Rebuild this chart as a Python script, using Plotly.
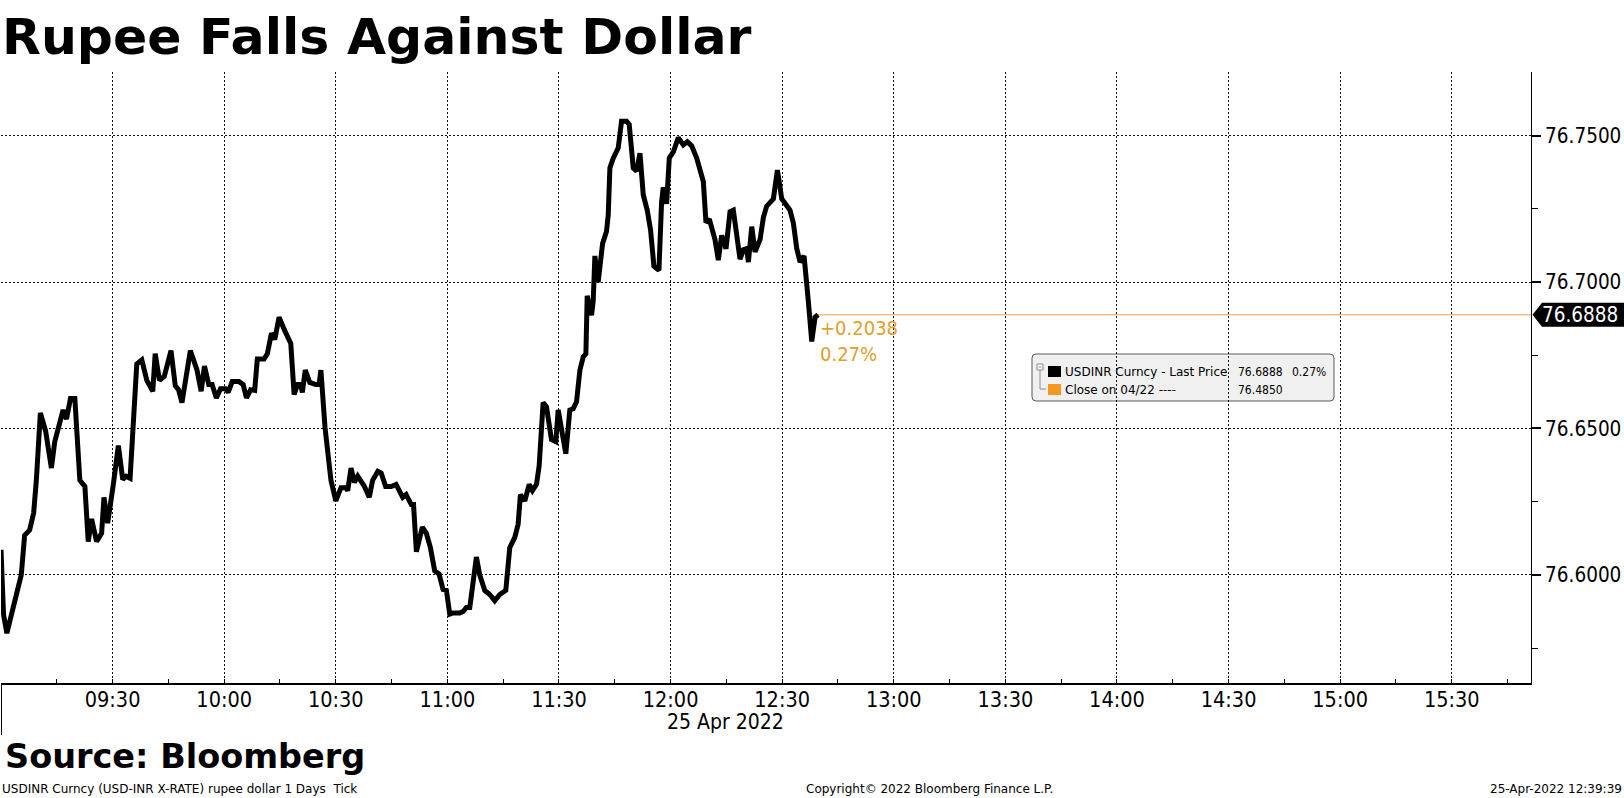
import plotly.graph_objects as go

DATE = "2022-04-25"

times = [
    "09:00:00", "09:00:41", "09:01:35", "09:03:39", "09:05:27", "09:06:21", "09:07:42", "09:08:47", "09:09:30", "09:10:35",
    "09:12:01", "09:13:33", "09:14:27", "09:16:42", "09:17:36", "09:18:41", "09:19:51", "09:21:12", "09:22:33", "09:23:27",
    "09:24:21", "09:25:42", "09:27:03", "09:27:41", "09:28:40", "09:30:12", "09:31:33", "09:32:43", "09:33:37", "09:34:42",
    "09:36:30", "09:37:51", "09:39:12", "09:40:48", "09:41:27", "09:42:36", "09:43:54", "09:45:42", "09:46:51", "09:47:45",
    "09:48:39", "09:50:54", "09:52:42", "09:53:48", "09:54:42", "09:55:51", "09:56:45", "09:57:54", "09:59:00", "10:00:21",
    "10:01:04", "10:02:09", "10:03:57", "10:05:06", "10:06:00", "10:07:06", "10:08:12", "10:08:54", "10:10:42", "10:11:36",
    "10:12:42", "10:13:36", "10:14:45", "10:16:06", "10:17:54", "10:18:48", "10:19:42", "10:20:36", "10:21:00", "10:21:48",
    "10:23:00", "10:24:36", "10:25:30", "10:26:00", "10:27:06", "10:28:42", "10:30:00", "10:31:24", "10:32:42", "10:33:12",
    "10:34:06", "10:35:00", "10:35:54", "10:37:42", "10:39:00", "10:39:54", "10:41:18", "10:42:12", "10:43:24", "10:44:54",
    "10:46:12", "10:48:00", "10:48:54", "10:50:18", "10:50:54", "10:51:40", "10:53:16", "10:54:21", "10:55:26", "10:56:35",
    "10:57:46", "10:58:50", "10:59:44", "11:00:38", "11:01:31", "11:03:19", "11:04:13", "11:05:07", "11:06:01", "11:07:48",
    "11:08:42", "11:10:03", "11:11:23", "11:12:44", "11:14:05", "11:15:42", "11:16:46", "11:18:07", "11:19:01", "11:19:38",
    "11:20:49", "11:21:59", "11:22:52", "11:23:57", "11:24:40", "11:25:44", "11:26:38", "11:27:59", "11:29:09", "11:29:47",
    "11:30:41", "11:31:50", "11:32:55", "11:33:49", "11:34:43", "11:35:37", "11:36:31", "11:37:14", "11:37:35", "11:38:45",
    "11:39:12", "11:39:39", "11:40:32", "11:40:59", "11:41:43", "11:42:47", "11:43:14", "11:43:41", "11:44:35", "11:45:56",
    "11:46:49", "11:48:10", "11:48:53", "11:49:58", "11:50:52", "11:51:46", "11:52:39", "11:53:44", "11:54:38", "11:55:31",
    "11:56:52", "11:57:35", "11:58:02", "11:58:56", "11:59:39", "12:00:44", "12:02:04", "12:03:25", "12:04:29", "12:05:40",
    "12:07:01", "12:08:48", "12:09:31", "12:10:25", "12:11:56", "12:12:50", "12:13:44", "12:14:54", "12:15:59", "12:16:52",
    "12:17:46", "12:18:40", "12:19:34", "12:20:28", "12:20:55", "12:21:49", "12:22:42", "12:24:03", "12:24:57", "12:25:50",
    "12:27:38", "12:28:43", "12:29:53", "12:31:13", "12:32:07", "12:33:01", "12:33:55", "12:34:49", "12:35:53", "12:37:04",
    "12:37:57", "12:38:51", "12:39:39",
]

prices = [
    76.6086, 76.5864, 76.5801, 76.5905, 76.6000, 76.6135, 76.6153, 76.6212, 76.6323, 76.6553,
    76.6490, 76.6365, 76.6455, 76.6563, 76.6532, 76.6602, 76.6602, 76.6323, 76.6302, 76.6114,
    76.6191, 76.6114, 76.6142, 76.6265, 76.6177, 76.6309, 76.6442, 76.6326, 76.6337, 76.6330,
    76.6720, 76.6734, 76.6664, 76.6627, 76.6755, 76.6664, 76.6678, 76.6766, 76.6646, 76.6632,
    76.6588, 76.6766, 76.6699, 76.6627, 76.6713, 76.6650, 76.6650, 76.6604, 76.6636, 76.6636,
    76.6623, 76.6660, 76.6660, 76.6650, 76.6604, 76.6632, 76.6630, 76.6737, 76.6737, 76.6755,
    76.6825, 76.6804, 76.6880, 76.6839, 76.6790, 76.6616, 76.6650, 76.6650, 76.6623, 76.6699,
    76.6657, 76.6650, 76.6650, 76.6699, 76.6504, 76.6323, 76.6253, 76.6298, 76.6298, 76.6288,
    76.6365, 76.6316, 76.6337, 76.6302, 76.6265, 76.6323, 76.6354, 76.6348, 76.6302, 76.6302,
    76.6309, 76.6265, 76.6274, 76.6240, 76.6240, 76.6079, 76.6163, 76.6142, 76.6093, 76.6014,
    76.6003, 76.5950, 76.5947, 76.5866, 76.5870, 76.5870, 76.5875, 76.5889, 76.5889, 76.6061,
    76.6000, 76.5947, 76.5933, 76.5912, 76.5933, 76.5947, 76.6093, 76.6128, 76.6173, 76.6274,
    76.6253, 76.6309, 76.6288, 76.6309, 76.6372, 76.6588, 76.6574, 76.6462, 76.6455, 76.6563,
    76.6497, 76.6414, 76.6563, 76.6567, 76.6591, 76.6699, 76.6744, 76.6755, 76.6953, 76.6887,
    76.6936, 76.7089, 76.6999, 76.7054, 76.7131, 76.7173, 76.7228, 76.7389, 76.7423, 76.7458,
    76.7549, 76.7549, 76.7538, 76.7389, 76.7379, 76.7440, 76.7298, 76.7245, 76.7176, 76.7054,
    76.7040, 76.7273, 76.7323, 76.7267, 76.7423, 76.7444, 76.7493, 76.7468, 76.7479, 76.7465,
    76.7423, 76.7343, 76.7203, 76.7215, 76.7145, 76.7075, 76.7159, 76.7114, 76.7240, 76.7245,
    76.7145, 76.7078, 76.7110, 76.7114, 76.7068, 76.7189, 76.7103, 76.7145, 76.7221, 76.7259,
    76.7284, 76.7382, 76.7284, 76.7256, 76.7245, 76.7201, 76.7114, 76.7068, 76.7089, 76.6929,
    76.6797, 76.6880, 76.6888,
]

x_tick_times = ["09:00", "09:30", "10:00", "10:30", "11:00", "11:30", "12:00", "12:30",
                "13:00", "13:30", "14:00", "14:30", "15:00", "15:30"]
x_tick_labels = ["", "09:30", "10:00", "10:30", "11:00", "11:30", "12:00", "12:30",
                 "13:00", "13:30", "14:00", "14:30", "15:00", "15:30"]
y_tick_values = [76.60, 76.65, 76.70, 76.75]
y_tick_labels = ["76.6000", "76.6500", "76.7000", "76.7500"]
x_start = "09:00:00"
x_end = "15:51:18"
y_range = [76.5631, 76.7717]

last_price = 76.6888
prev_close = 76.4850
prev_close_label = "04/22"
ticker = "USDINR Curncy"

title_text = "Rupee Falls Against Dollar"
source_text = "Source: Bloomberg"
footer_left = "USDINR Curncy (USD-INR X-RATE) rupee dollar 1 Days  Tick"
footer_mid = "Copyright\u00a9 2022 Bloomberg Finance L.P."
footer_right = "25-Apr-2022 12:39:39"
date_label = "25 Apr 2022"

BLACK = "#000000"
ORANGE_LINE = "#E9A53A"
ORANGE_TEXT = "#E39E2D"
ORANGE_SWATCH = "#F29A1F"
COND = "DejaVu Sans Condensed"
SANS = "DejaVu Sans"

W, H = 1624, 798
L, R, T, B = 1, 93, 72, 115
PW = W - L - R
PH = H - T - B


def px(x):
    return (x - L) / PW


def py(y):
    return (H - B - y) / PH


xs = [f"{DATE} {t}" for t in times]
change = last_price - prev_close
pct = change / prev_close * 100

fig = go.Figure()
fig.add_trace(go.Scatter(
    x=[xs[-1], f"{DATE} {x_end}"], y=[last_price, last_price],
    mode="lines", line=dict(color=ORANGE_LINE, width=1), hoverinfo="skip"))
fig.add_trace(go.Scatter(
    x=xs, y=prices, mode="lines",
    line=dict(color=BLACK, width=5), name=ticker))

shapes = []
# day separator at left
shapes.append(dict(type="line", xref="x", yref="paper",
                   x0=f"{DATE} {x_start}", x1=f"{DATE} {x_start}",
                   y0=py(735), y1=0, line=dict(color=BLACK, width=2)))

# price box on the right axis
h = 12 * (y_range[1] - y_range[0]) / PH
shapes.append(dict(
    type="path", xref="paper", yref="y",
    path=(f"M {px(1532.5)} {last_price} L {px(1542)} {last_price + h} "
          f"L {px(1624)} {last_price + h} L {px(1624)} {last_price - h} "
          f"L {px(1542)} {last_price - h} Z"),
    fillcolor=BLACK, line=dict(width=0), layer="above"))


def rrect(x0, y0, x1, y1, r):
    return (f"M {px(x0 + r)} {py(y0)} L {px(x1 - r)} {py(y0)} "
            f"Q {px(x1)} {py(y0)} {px(x1)} {py(y0 + r)} "
            f"L {px(x1)} {py(y1 - r)} Q {px(x1)} {py(y1)} {px(x1 - r)} {py(y1)} "
            f"L {px(x0 + r)} {py(y1)} Q {px(x0)} {py(y1)} {px(x0)} {py(y1 - r)} "
            f"L {px(x0)} {py(y0 + r)} Q {px(x0)} {py(y0)} {px(x0 + r)} {py(y0)} Z")


# legend box
shapes.append(dict(type="path", xref="paper", yref="paper",
                   path=rrect(1032, 354, 1334, 401, 4),
                   fillcolor="#F0F0F0", line=dict(color="#5A5A5A", width=1),
                   layer="below"))
# tree icon
shapes.append(dict(type="rect", xref="paper", yref="paper",
                   x0=px(1037), x1=px(1043), y0=py(370), y1=py(364),
                   line=dict(color="#8A8A8A", width=1), fillcolor="#FFFFFF"))
shapes.append(dict(type="line", xref="paper", yref="paper",
                   x0=px(1038.5), x1=px(1041.5), y0=py(367), y1=py(367),
                   line=dict(color="#8A8A8A", width=1)))
shapes.append(dict(type="path", xref="paper", yref="paper",
                   path=f"M {px(1040)} {py(370)} L {px(1040)} {py(389)} L {px(1046)} {py(389)}",
                   line=dict(color="#8A8A8A", width=1)))
# swatches
shapes.append(dict(type="rect", xref="paper", yref="paper",
                   x0=px(1048), x1=px(1061), y0=py(377), y1=py(366),
                   line=dict(width=0), fillcolor=BLACK))
shapes.append(dict(type="rect", xref="paper", yref="paper",
                   x0=px(1048), x1=px(1061), y0=py(395), y1=py(384),
                   line=dict(width=0), fillcolor=ORANGE_SWATCH))

annotations = []


def ann(text, x, y, size, family=COND, color=BLACK, xanchor="left", weight="normal", **kw):
    d = dict(text=text, x=x, y=y, xanchor=xanchor, yanchor="middle",
             showarrow=False, font=dict(family=family, size=size, color=color, weight=weight))
    d.setdefault("xref", "paper")
    d.setdefault("yref", "paper")
    d.update(kw)
    annotations.append(d)


ann(title_text, px(0), py(36), 50.5, family=SANS, weight="bold")
ann(source_text, px(3), py(756), 33.5, family=SANS, weight="bold")
ann(footer_left, px(0), py(789), 12, family=SANS)
ann(footer_mid, px(804), py(789), 12, family=SANS)
ann(footer_right, px(1624), py(789), 12, family=SANS, xanchor="right")
ann(date_label, px(725), py(722), 21, xanchor="center")

# change labels near last point
ann(f"{change:+.4f}", f"{DATE} {times[-1]}", last_price, 20, color=ORANGE_TEXT,
    xref="x", yref="y", yshift=-13)
ann(f"{pct:.2f}%", f"{DATE} {times[-1]}", last_price, 20, color=ORANGE_TEXT,
    xref="x", yref="y", yshift=-39)

# price box label
ann(f"{last_price:.4f}", px(1540), last_price, 20.5, color="#FFFFFF", yref="y")

# legend texts
ann(f"{ticker} - Last Price", px(1063), py(371.5), 12, family=SANS)
ann(f"{last_price:.4f}", px(1236), py(371.5), 12)
ann(f"{pct:.2f}%", px(1328), py(371.5), 12, xanchor="right")
ann(f"Close on {prev_close_label} ----", px(1063), py(389.5), 12, family=SANS)
ann(f"{prev_close:.4f}", px(1236), py(389.5), 12)

fig.update_layout(
    width=W, height=H,
    margin=dict(l=L, r=R, t=T, b=B, pad=0),
    paper_bgcolor="#FFFFFF", plot_bgcolor="#FFFFFF",
    showlegend=False,
    shapes=shapes, annotations=annotations,
    xaxis=dict(
        type="date",
        range=[f"{DATE} {x_start}", f"{DATE} {x_end}"],
        tickmode="array",
        tickvals=[f"{DATE} {t}" for t in x_tick_times],
        ticktext=x_tick_labels,
        showgrid=True, gridcolor="#111111", gridwidth=1, griddash="2px,2px",
        showline=True, linecolor=BLACK, linewidth=1.5,
        ticks="inside", ticklen=4, tickwidth=1, tickcolor=BLACK,
        minor=dict(tickmode="linear", tick0=f"{DATE} 09:00", dtick=15 * 60 * 1000,
                   ticks="inside", ticklen=4, tickwidth=1, tickcolor=BLACK, showgrid=False),
        tickfont=dict(family=COND, size=21.5, color=BLACK),
        ticklabelstandoff=-4,
        zeroline=False, automargin=False, fixedrange=True,
    ),
    yaxis=dict(
        side="right",
        range=y_range,
        tickmode="array",
        tickvals=y_tick_values,
        ticktext=y_tick_labels,
        showgrid=True, gridcolor="#111111", gridwidth=1, griddash="2px,2px",
        showline=True, linecolor=BLACK, linewidth=1,
        ticks="outside", ticklen=9, tickwidth=2, tickcolor=BLACK,
        minor=dict(tickmode="linear", tick0=76.6, dtick=0.025,
                   ticks="outside", ticklen=6, tickwidth=1, tickcolor=BLACK, showgrid=False),
        tickfont=dict(family=COND, size=20.5, color=BLACK),
        zeroline=False, automargin=False, fixedrange=True,
    ),
)

fig.write_html("out.html",
               config={"displayModeBar": False},
               post_script="document.body.style.margin='0px';document.body.style.padding='0px';")
